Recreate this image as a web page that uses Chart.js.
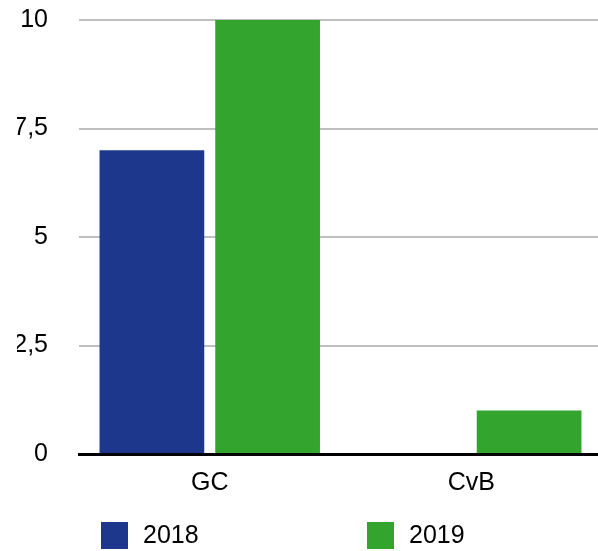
<!DOCTYPE html>
<html>
<head>
<meta charset="utf-8">
<script src="https://cdn.jsdelivr.net/npm/chart.js@4"></script>
<style>
html,body{margin:0;padding:0;background:#fff;overflow:hidden;}
#wrap{width:602px;height:551px;position:relative;}
</style>
</head>
<body>
<div id="wrap"><canvas id="chart"></canvas></div>
<script>
const categories = ["GC", "CvB"];
const seriesNames = ["2018", "2019"];
const values2018 = [7, 0];
const values2019 = [10, 1];
const seriesColors = ["#1c378c", "#33a42d"];
const yTicks = [0, 2.5, 5, 7.5, 10];

const FONT = "'Liberation Sans', Arial, sans-serif";

// simple legend drawn under the plot
const bottomLegend = {
  id: "bottomLegend",
  afterDraw(chart){
    const ctx = chart.ctx;
    const a = chart.chartArea;
    const xs = [a.left + 22, a.left + 288];
    ctx.save();
    ctx.font = "25px " + FONT;
    ctx.textBaseline = "middle";
    chart.data.datasets.forEach((ds, i) => {
      ctx.fillStyle = ds.backgroundColor;
      ctx.fillRect(xs[i], 522, 27, 27);
      ctx.fillStyle = "#000";
      ctx.fillText(ds.label, xs[i] + 42, 536);
    });
    ctx.restore();
  }
};

new Chart(document.getElementById("chart").getContext("2d"), {
  type: "bar",
  data: {
    labels: categories,
    datasets: [
      {label: seriesNames[0], data: values2018, backgroundColor: seriesColors[0]},
      {label: seriesNames[1], data: values2019, backgroundColor: seriesColors[1]}
    ]
  },
  options: {
    responsive: true,
    maintainAspectRatio: false,
    animation: false,
    categoryPercentage: 0.885,
    barPercentage: 0.905,
    layout: {padding: {top: 20, left: 17, right: 0, bottom: 52}},
    plugins: {legend: {display: false}, tooltip: {enabled: false}},
    scales: {
      x: {
        grid: {display: false, drawTicks: false},
        border: {display: true, color: "#000", width: 3},
        ticks: {color: "#000", padding: 14, font: {size: 25, family: FONT}},
        afterFit(s){ s.height = 45; s.paddingLeft = 0; s.paddingRight = 0; }
      },
      y: {
        min: 0,
        max: 10,
        afterBuildTicks(scale){ scale.ticks = yTicks.map(v => ({value: v})); },
        grid: {color: "#bfbfbf", lineWidth: 2, drawTicks: false},
        border: {display: false},
        ticks: {
          color: "#000",
          padding: 31,
          font: {size: 25, family: FONT},
          callback: v => String(v).replace(".", ",")
        },
        afterFit(s){ s.width = 62; s.paddingTop = 0; s.paddingBottom = 0; }
      }
    }
  },
  plugins: [bottomLegend]
});
</script>
</body>
</html>
